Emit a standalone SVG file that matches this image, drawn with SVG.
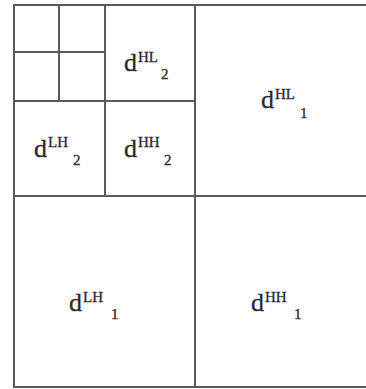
<svg xmlns="http://www.w3.org/2000/svg" width="366" height="389" viewBox="0 0 366 389">
<style>
.g{stroke:#5a5a5a;stroke-width:2;fill:none}
text{font-family:"Liberation Serif","Times New Roman",serif;fill:#2a2a2a;stroke:#2a2a2a;stroke-width:0.3}
.d{font-size:26px}
.s{font-size:15px}
</style>
<rect width="366" height="389" fill="#fff"/>
<g id="grid">
<line class="g" x1="13" y1="5" x2="366" y2="5"/>
<line class="g" x1="14" y1="4" x2="14" y2="388"/>
<line class="g" x1="13" y1="387" x2="366" y2="387"/>
<line class="g" x1="195" y1="4" x2="195" y2="388"/>
<line class="g" x1="14" y1="196" x2="366" y2="196"/>
<line class="g" x1="105" y1="5" x2="105" y2="196"/>
<line class="g" x1="14" y1="101" x2="195" y2="101"/>
<line class="g" x1="59" y1="5" x2="59" y2="101"/>
<line class="g" x1="14" y1="52" x2="105" y2="52"/>
</g>
<g id="HL2"><text class="d" x="124" y="71">d</text><text class="s" x="138" y="62">HL</text><text class="s" x="161" y="79">2</text></g>
<g id="LH2"><text class="d" x="34" y="157">d</text><text class="s" x="48" y="147">LH</text><text class="s" x="73" y="165">2</text></g>
<g id="HH2"><text class="d" x="124" y="157">d</text><text class="s" x="138" y="147">HH</text><text class="s" x="164" y="165">2</text></g>
<g id="HL1"><text class="d" x="261" y="108">d</text><text class="s" x="275" y="99">HL</text><text class="s" x="300" y="118">1</text></g>
<g id="LH1"><text class="d" x="69" y="311">d</text><text class="s" x="83" y="302">LH</text><text class="s" x="111" y="319">1</text></g>
<g id="HH1"><text class="d" x="251" y="311">d</text><text class="s" x="265" y="302">HH</text><text class="s" x="294" y="319">1</text></g>
</svg>
